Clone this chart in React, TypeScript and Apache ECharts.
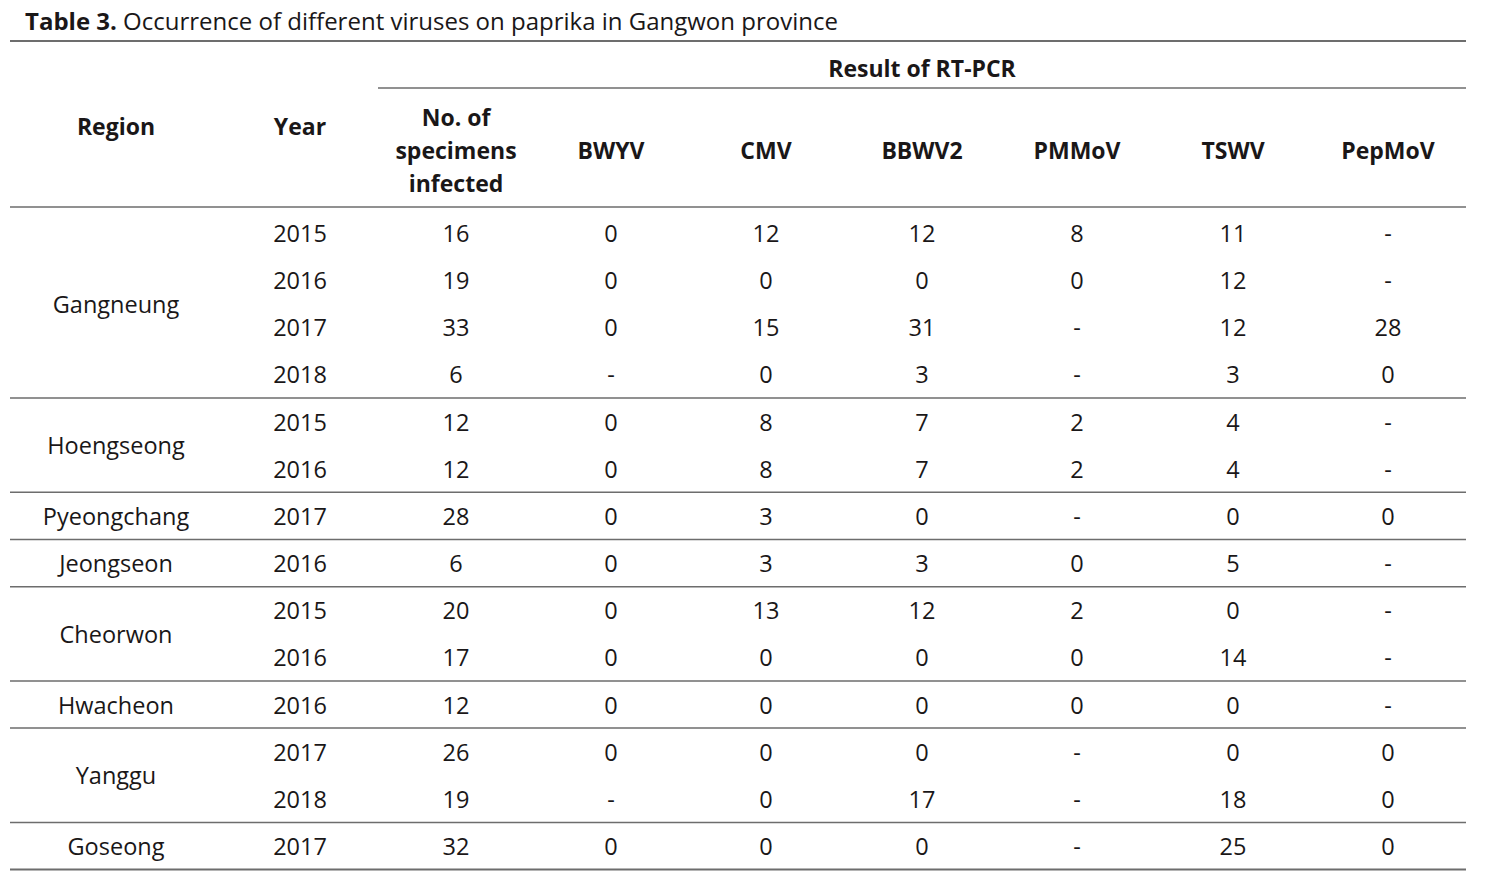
import React, { useEffect, useRef } from "react";
import * as echarts from "echarts";

const titleBold = "Table 3.";
const titleRest = " Occurrence of different viruses on paprika in Gangwon province";
const groupHeader = "Result of RT-PCR";
const colHeaders = ["Region", "Year", "No. of\nspecimens\ninfected", "BWYV", "CMV", "BBWV2", "PMMoV", "TSWV", "PepMoV"];

const regionNames = ["Gangneung", "Hoengseong", "Pyeongchang", "Jeongseon", "Cheorwon", "Hwacheon", "Yanggu", "Goseong"];
const regionRowCounts = [4, 2, 1, 1, 2, 1, 2, 1];

const years = ["2015", "2016", "2017", "2018", "2015", "2016", "2017", "2016", "2015", "2016", "2016", "2017", "2018", "2017"];
const infected = ["16", "19", "33", "6", "12", "12", "28", "6", "20", "17", "12", "26", "19", "32"];
const bwyv = ["0", "0", "0", "-", "0", "0", "0", "0", "0", "0", "0", "0", "-", "0"];
const cmv = ["12", "0", "15", "0", "8", "8", "3", "3", "13", "0", "0", "0", "0", "0"];
const bbwv2 = ["12", "0", "31", "3", "7", "7", "0", "3", "12", "0", "0", "0", "17", "0"];
const pmmov = ["8", "0", "-", "-", "2", "2", "-", "0", "2", "0", "0", "-", "-", "-"];
const tswv = ["11", "12", "12", "3", "4", "4", "0", "5", "0", "14", "0", "0", "18", "25"];
const pepmov = ["-", "-", "28", "0", "-", "-", "0", "-", "-", "-", "-", "0", "0", "0"];

const TEXT = "#1a1718";
const LINE = "#6d6d6d";
const FONT = "'Open Sans', sans-serif";

export default function App() {
  const ref = useRef<HTMLDivElement>(null);
  useEffect(() => {
    const chart = echarts.init(ref.current!, undefined, { renderer: "svg" });
    const colX = [116, 300, 456, 611, 766, 922, 1077, 1233, 1388];
    const rowY0 = 233;
    const rowStep = 47.15;
    const left = 10;
    const right = 1466;
    const fs = 23.5;
    const bfs = 23;
    const els: any[] = [];
    const txt = (x: number, y: number, s: string, bold = false) => {
      els.push({
        type: "text",
        x,
        y,
        style: {
          text: s,
          fill: TEXT,
          font: `${bold ? "bold " : ""}${bold ? bfs : fs}px ${FONT}`,
          align: "center",
          verticalAlign: "middle",
          lineHeight: 33,
        },
      });
    };
    const hline = (x1: number, x2: number, y: number, w = 1.5) => {
      els.push({ type: "line", shape: { x1, y1: y, x2, y2: y }, style: { stroke: LINE, lineWidth: w } });
    };
    // title
    els.push({
      type: "text",
      x: 25,
      y: 20,
      style: {
        text: `{b|${titleBold}}{r|${titleRest}}`,
        verticalAlign: "middle",
        rich: {
          b: { font: `bold 24px ${FONT}`, fill: TEXT },
          r: { font: `24px ${FONT}`, fill: TEXT },
        },
      },
    });
    hline(left, right, 41, 2);
    txt(922, 68, groupHeader, true);
    hline(378, right, 88);
    txt(colX[0], 126, colHeaders[0], true);
    txt(colX[1], 126, colHeaders[1], true);
    txt(colX[2], 150, colHeaders[2], true);
    for (let c = 3; c < colHeaders.length; c++) txt(colX[c], 150, colHeaders[c], true);
    hline(left, right, 207);

    const cols = [years, infected, bwyv, cmv, bbwv2, pmmov, tswv, pepmov];
    years.forEach((_, r) => {
      cols.forEach((arr, c) => txt(colX[c + 1], rowY0 + r * rowStep, arr[r]));
    });
    let start = 0;
    regionNames.forEach((name, i) => {
      const n = regionRowCounts[i];
      const mid = rowY0 + (start + (n - 1) / 2) * rowStep;
      txt(colX[0], mid, name);
      start += n;
      const yLine = rowY0 + (start - 0.5) * rowStep;
      hline(left, right, yLine, i === regionNames.length - 1 ? 2 : 1.5);
    });

    chart.setOption({ animation: false, backgroundColor: "#ffffff", graphic: { elements: els } });
    return () => chart.dispose();
  }, []);
  return <div ref={ref} style={{ position: "fixed", left: 0, top: 0, width: 1486, height: 871 }} />;
}
